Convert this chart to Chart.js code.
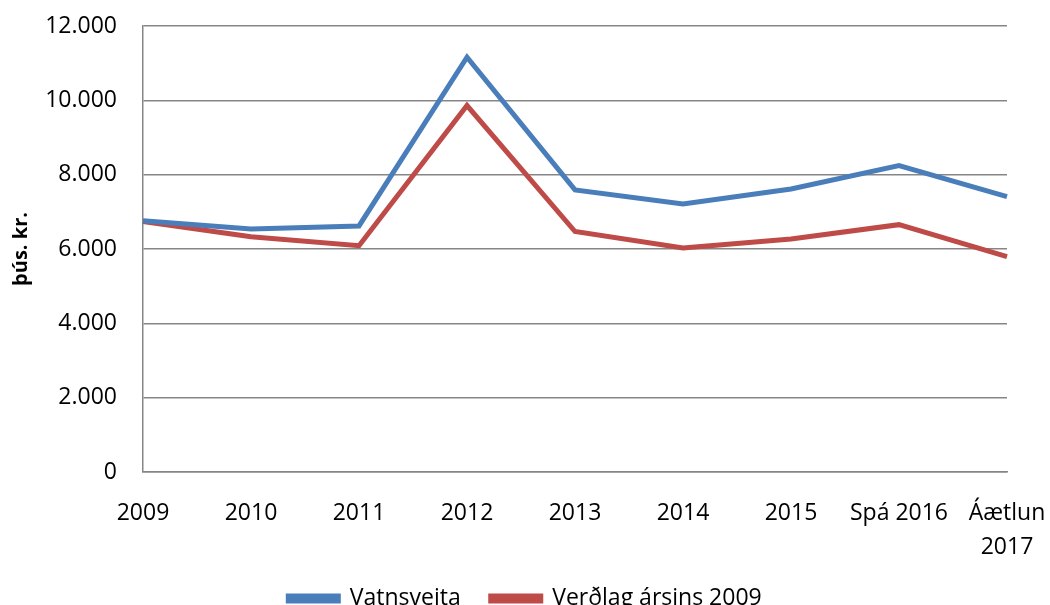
<!DOCTYPE html>
<html>
<head>
<meta charset="utf-8">
<script src="https://cdn.jsdelivr.net/npm/chart.js@4"></script>
<style>
  html, body { margin: 0; padding: 0; background: #fff; overflow: hidden; }
  #wrap { width: 1050px; height: 605px; overflow: hidden; }
</style>
</head>
<body>
<div id="wrap"><canvas id="chart" width="1050" height="620"></canvas></div>
<script>
const years = ["2009", "2010", "2011", "2012", "2013", "2014", "2015", "Spá 2016", ["Áætlun", "2017"]];
const vatnsveita = [6760, 6540, 6620, 11160, 7590, 7210, 7615, 8245, 7410];
const verdlag2009 = [6740, 6330, 6090, 9860, 6470, 6030, 6270, 6655, 5795];
const yTicks = [0, 2000, 4000, 6000, 8000, 10000, 12000];

const FONT = "'Open Sans', 'DejaVu Sans', sans-serif";
const gray = "#868686";

// íslenskt snið: 12.000
const fmt = v => String(v).replace(/\B(?=(\d{3})+(?!\d))/g, ".");

new Chart(document.getElementById("chart"), {
  type: "line",
  data: {
    labels: years,
    datasets: [
      { label: "Vatnsveita", data: vatnsveita, borderColor: "#4A7EBB", backgroundColor: "#4A7EBB",
        borderWidth: 5, pointRadius: 0, tension: 0 },
      { label: "Verðlag ársins 2009", data: verdlag2009, borderColor: "#BE4B48", backgroundColor: "#BE4B48",
        borderWidth: 5, pointRadius: 0, tension: 0 },
    ],
  },
  options: {
    responsive: false,
    animation: false,
    layout: { padding: { top: 26, right: 0, left: 0, bottom: 0 } },
    plugins: {
      tooltip: { enabled: false },
      legend: {
        position: "bottom",
        labels: { color: "#000", font: { family: FONT, size: 23 }, boxWidth: 50, boxHeight: 5, padding: 30 },
      },
    },
    scales: {
      x: {
        offset: false,
        grid: { display: false },
        border: { display: true, color: gray, width: 1.5 },
        ticks: { color: "#000", font: { family: FONT, size: 23, lineHeight: 1.45 }, padding: 17,
                 maxRotation: 0, autoSkip: false },
        afterFit: s => { s.height = 85; s.paddingLeft = 0; s.paddingRight = 43; },
      },
      y: {
        min: 0, max: 12000,
        afterBuildTicks: s => { s.ticks = yTicks.map(v => ({ value: v })); },
        grid: { color: gray, lineWidth: 1.5, drawTicks: false },
        border: { display: true, color: gray, width: 1.5 },
        ticks: { color: "#000", font: { family: FONT, size: 23 }, padding: 26, callback: v => fmt(v) },
        title: { display: true, text: "þús. kr.", color: "#000", font: { family: FONT, size: 20, weight: "bold" },
                 padding: { top: 9, bottom: 0 } },
        afterFit: s => { s.width = 143; s.paddingTop = 0; s.paddingBottom = 0; },
      },
    },
  },
});
</script>
</body>
</html>
